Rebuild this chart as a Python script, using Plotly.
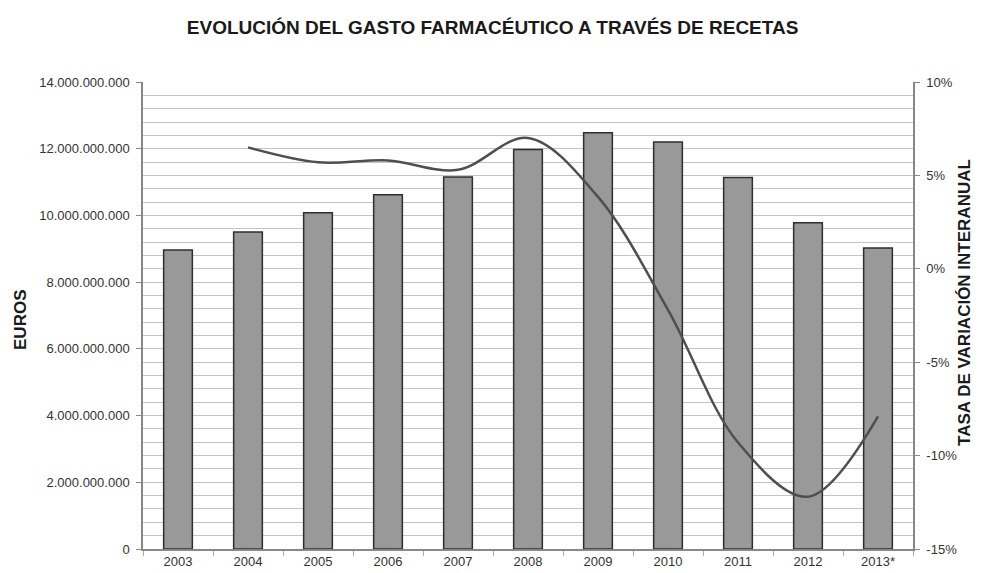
import plotly.graph_objects as go

# Datos
years = ["2003", "2004", "2005", "2006", "2007", "2008", "2009", "2010", "2011", "2012", "2013*"]
gasto = [8.96e9, 9.50e9, 10.08e9, 10.62e9, 11.15e9, 11.98e9, 12.48e9, 12.20e9, 11.14e9, 9.78e9, 9.02e9]
tasa_years = years[1:]
tasa = [6.5, 5.7, 5.8, 5.3, 7.0, 3.85, -2.2, -9.3, -12.2, -7.9]

left_ticks = [0, 2e9, 4e9, 6e9, 8e9, 10e9, 12e9, 14e9]
right_ticks = [-15, -10, -5, 0, 5, 10]
right_labels = ["-15%", "-10%", "-5%", "0%", "5%", "10%"]

FONT = "Liberation Sans, Arial, sans-serif"

fig = go.Figure()

fig.add_trace(
    go.Bar(
        x=years,
        y=gasto,
        width=0.41,
        marker=dict(color="#999999", line=dict(color="#2e2e2e", width=1.5)),
        showlegend=False,
    )
)

fig.add_trace(
    go.Scatter(
        x=tasa_years,
        y=tasa,
        yaxis="y2",
        mode="lines",
        line=dict(color="#4f4f4f", width=2.5, shape="spline", smoothing=1.0),
        showlegend=False,
    )
)

# la página tiene un margen de 8px, así que la figura es algo menor que la ventana
fig.update_layout(
    width=977,
    height=565,
    template="plotly_white",
    plot_bgcolor="white",
    paper_bgcolor="white",
    separators=",.",
    font=dict(family=FONT, color="#333333"),
    margin=dict(l=135, r=72, t=74, b=24, autoexpand=False),
    title=dict(
        text="<b>EVOLUCIÓN DEL GASTO FARMACÉUTICO A TRAVÉS DE RECETAS</b>",
        x=0.496,
        xanchor="center",
        y=0.966,
        yanchor="middle",
        font=dict(family=FONT, size=19, color="#1a1a1a"),
    ),
    xaxis=dict(
        type="category",
        automargin=False,
        showgrid=False,
        showline=True,
        linecolor="#888888",
        linewidth=1.5,
        ticks="outside",
        tickson="boundaries",
        ticklen=5,
        tickcolor="#aaaaaa",
        tickfont=dict(size=13, color="#333333"),
        range=[-0.5, 10.5],
    ),
    yaxis=dict(
        automargin=False,
        range=[0, 14e9],
        tickvals=left_ticks,
        tickformat=",d",
        showgrid=True,
        gridcolor="#c4c4c4",
        gridwidth=1,
        minor=dict(dtick=4e8, tick0=0, showgrid=True, gridcolor="#c4c4c4", gridwidth=1),
        showline=True,
        linecolor="#888888",
        linewidth=1.5,
        ticks="outside",
        ticklen=5,
        tickcolor="#888888",
        ticklabelstandoff=4,
        tickfont=dict(size=13, color="#333333"),
        zeroline=False,
    ),
    yaxis2=dict(
        automargin=False,
        overlaying="y",
        side="right",
        range=[-15, 10],
        tickvals=right_ticks,
        ticktext=right_labels,
        showgrid=False,
        zeroline=False,
        showline=True,
        linecolor="#888888",
        linewidth=1.5,
        ticks="outside",
        ticklen=5,
        tickcolor="#888888",
        ticklabelstandoff=4,
        tickfont=dict(size=13, color="#333333"),
    ),
    annotations=[
        dict(
            text="<b>EUROS</b>",
            xref="paper", yref="paper",
            x=-0.16, y=0.49,
            xanchor="center", yanchor="middle",
            textangle=-90,
            showarrow=False,
            font=dict(family=FONT, size=17, color="#1a1a1a"),
        ),
        dict(
            text="<b>TASA DE VARIACIÓN INTERANUAL</b>",
            xref="paper", yref="paper",
            x=1.0675, y=0.529,
            xanchor="center", yanchor="middle",
            textangle=-90,
            showarrow=False,
            font=dict(family=FONT, size=17, color="#1a1a1a"),
        ),
    ],
)

fig.write_html("out.html")
